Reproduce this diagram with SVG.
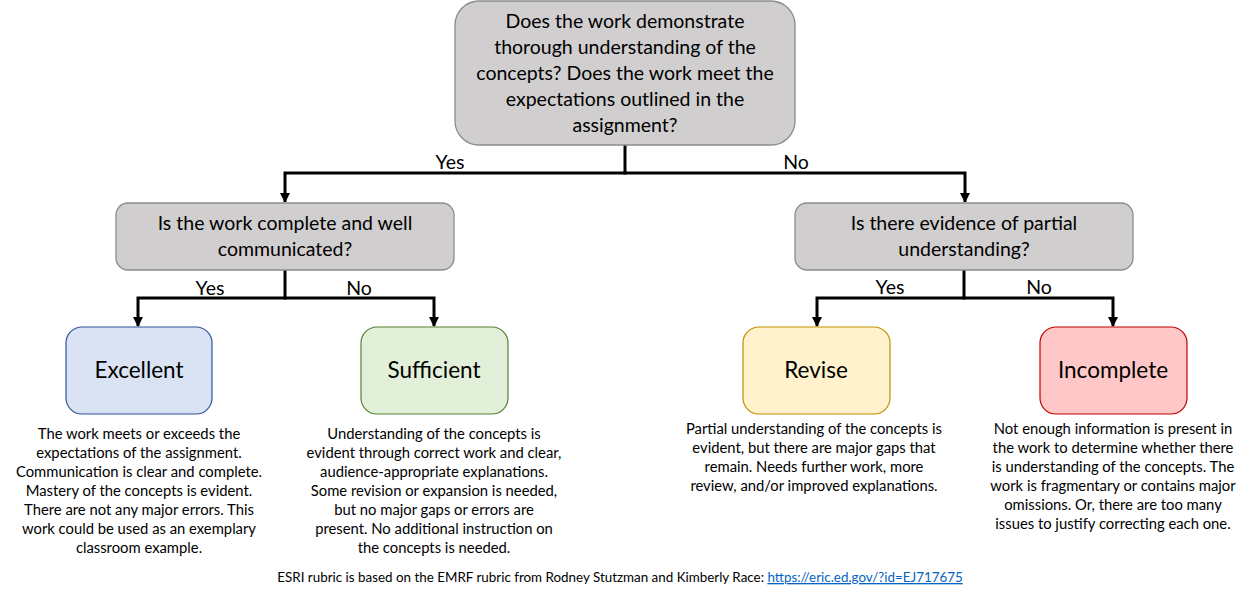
<svg xmlns="http://www.w3.org/2000/svg" width="1252" height="589" viewBox="0 0 1252 589">
<defs>
<marker id="arr" viewBox="0 0 10 10" refX="9" refY="5" markerWidth="3.4" markerHeight="3.6" orient="auto" markerUnits="strokeWidth"><path d="M0,0 L10,5 L0,10 z" fill="#000"/></marker>
<style>
text{font-family:Lato,"Open Sans","Liberation Sans",sans-serif;fill:#000;text-anchor:middle}
.q{fill:#d0cece;stroke:#8c8c8c;stroke-width:1.3}
.qt{font-size:19.5px}
.lab{font-size:19.5px}
.leaf{font-size:22.5px}
.d{font-size:14.8px}
.c{fill:none;stroke:#000;stroke-width:3}
</style>
</defs>
<rect width="1252" height="589" fill="#fff"/>
<g id="connectors">
<path class="c" d="M625,145 V173"/>
<path class="c" d="M626.5,173 H285 V202" marker-end="url(#arr)"/>
<path class="c" d="M623.5,173 H965 V202" marker-end="url(#arr)"/>
<path class="c" d="M285,270 V298"/>
<path class="c" d="M286.5,298 H138 V326" marker-end="url(#arr)"/>
<path class="c" d="M283.5,298 H434 V326" marker-end="url(#arr)"/>
<path class="c" d="M964,270 V298"/>
<path class="c" d="M965.5,298 H817 V326" marker-end="url(#arr)"/>
<path class="c" d="M962.5,298 H1113 V326" marker-end="url(#arr)"/>
<text class="lab" x="450" y="169">Yes</text>
<text class="lab" x="796" y="169">No</text>
<text class="lab" x="210" y="295">Yes</text>
<text class="lab" x="359" y="295">No</text>
<text class="lab" x="890" y="294">Yes</text>
<text class="lab" x="1039" y="294">No</text>
</g>
<g id="q1">
<rect class="q" x="455" y="1" width="340" height="144" rx="24"/>
<text class="qt" x="625" y="28">Does the work demonstrate</text>
<text class="qt" x="625" y="54">thorough understanding of the</text>
<text class="qt" x="625" y="80">concepts? Does the work meet the</text>
<text class="qt" x="625" y="106">expectations outlined in the</text>
<text class="qt" x="625" y="132">assignment?</text>
</g>
<g id="q2">
<rect class="q" x="116" y="203" width="338" height="67" rx="12"/>
<text class="qt" x="285" y="230">Is the work complete and well</text>
<text class="qt" x="285" y="256">communicated?</text>
</g>
<g id="q3">
<rect class="q" x="795" y="203" width="338" height="67" rx="12"/>
<text class="qt" x="964" y="230">Is there evidence of partial</text>
<text class="qt" x="964" y="256">understanding?</text>
</g>
<g id="excellent">
<rect x="66" y="327" width="146" height="87" rx="16" fill="#dae3f3" stroke="#2f5597" stroke-width="1.2"/>
<text class="leaf" x="139" y="378">Excellent</text>
<text class="d" x="139" y="439">The work meets or exceeds the</text>
<text class="d" x="139" y="458">expectations of the assignment.</text>
<text class="d" x="139" y="477">Communication is clear and complete.</text>
<text class="d" x="139" y="496">Mastery of the concepts is evident.</text>
<text class="d" x="139" y="515">There are not any major errors. This</text>
<text class="d" x="139" y="534">work could be used as an exemplary</text>
<text class="d" x="139" y="553">classroom example.</text>
</g>
<g id="sufficient">
<rect x="361" y="327" width="147" height="87" rx="16" fill="#e2f0d9" stroke="#548235" stroke-width="1.2"/>
<text class="leaf" x="434" y="378">Sufficient</text>
<text class="d" x="434" y="439">Understanding of the concepts is</text>
<text class="d" x="434" y="458">evident through correct work and clear,</text>
<text class="d" x="434" y="477">audience-appropriate explanations.</text>
<text class="d" x="434" y="496">Some revision or expansion is needed,</text>
<text class="d" x="434" y="515">but no major gaps or errors are</text>
<text class="d" x="434" y="534">present. No additional instruction on</text>
<text class="d" x="434" y="553">the concepts is needed.</text>
</g>
<g id="revise">
<rect x="743" y="327" width="147" height="87" rx="16" fill="#fff2cc" stroke="#bf9000" stroke-width="1.2"/>
<text class="leaf" x="816" y="378">Revise</text>
<text class="d" x="814" y="434">Partial understanding of the concepts is</text>
<text class="d" x="814" y="453">evident, but there are major gaps that</text>
<text class="d" x="814" y="472">remain. Needs further work, more</text>
<text class="d" x="814" y="491">review, and/or improved explanations.</text>
</g>
<g id="incomplete">
<rect x="1040" y="327" width="147" height="87" rx="16" fill="#ffc7c7" stroke="#c00000" stroke-width="1.2"/>
<text class="leaf" x="1113" y="378">Incomplete</text>
<text class="d" x="1113" y="434">Not enough information is present in</text>
<text class="d" x="1113" y="453">the work to determine whether there</text>
<text class="d" x="1113" y="472">is understanding of the concepts. The</text>
<text class="d" x="1113" y="491">work is fragmentary or contains major</text>
<text class="d" x="1113" y="510">omissions. Or, there are too many</text>
<text class="d" x="1113" y="529">issues to justify correcting each one.</text>
</g>
<g id="footer">
<text x="620" y="582" style="font-size:13.4px">ESRI rubric is based on the EMRF rubric from Rodney Stutzman and Kimberly Race: <tspan text-decoration="underline" style="fill:#0563c1">https://eric.ed.gov/?id=EJ717675</tspan></text>
</g>
</svg>
